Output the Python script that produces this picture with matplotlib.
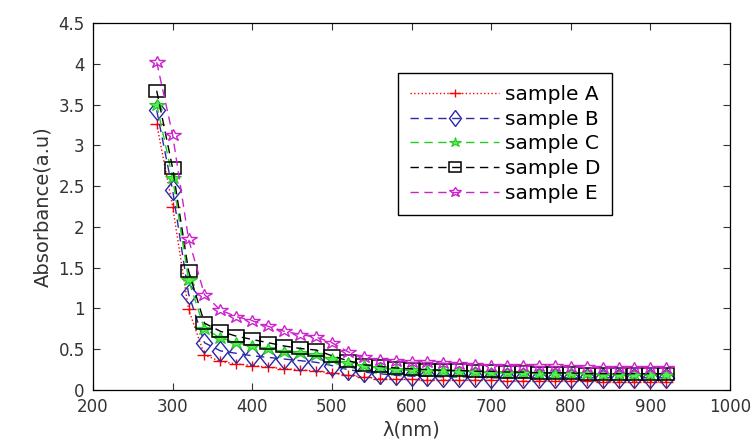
import matplotlib.pyplot as plt
import numpy as np
from matplotlib.markers import MarkerStyle
from matplotlib.transforms import Affine2D

plt.rcParams['font.family'] = ['DejaVu Sans']

wl = list(range(280, 940, 20))

sample_a = [3.26, 2.25, 0.99, 0.43, 0.35, 0.32, 0.30, 0.28, 0.26, 0.25, 0.23, 0.21, 0.18,
            0.16, 0.14, 0.13, 0.13, 0.12, 0.12, 0.12, 0.12, 0.12, 0.11, 0.11, 0.11, 0.11,
            0.11, 0.11, 0.10, 0.10, 0.10, 0.10, 0.10]
sample_b = [3.43, 2.45, 1.18, 0.58, 0.48, 0.45, 0.42, 0.40, 0.38, 0.36, 0.34, 0.30, 0.25,
            0.22, 0.20, 0.18, 0.17, 0.17, 0.16, 0.16, 0.16, 0.15, 0.15, 0.15, 0.15, 0.15,
            0.15, 0.15, 0.15, 0.15, 0.15, 0.15, 0.15]
sample_c = [3.50, 2.60, 1.35, 0.75, 0.64, 0.58, 0.54, 0.50, 0.47, 0.45, 0.43, 0.38, 0.33,
            0.29, 0.27, 0.25, 0.24, 0.23, 0.23, 0.22, 0.22, 0.21, 0.21, 0.21, 0.20, 0.20,
            0.20, 0.20, 0.19, 0.19, 0.19, 0.19, 0.19]
sample_d = [3.67, 2.72, 1.46, 0.82, 0.72, 0.66, 0.62, 0.58, 0.54, 0.51, 0.49, 0.42, 0.36,
            0.31, 0.29, 0.27, 0.26, 0.25, 0.24, 0.24, 0.23, 0.23, 0.22, 0.22, 0.21, 0.21,
            0.21, 0.20, 0.20, 0.20, 0.20, 0.20, 0.20]
sample_e = [4.02, 3.13, 1.85, 1.17, 0.98, 0.90, 0.85, 0.78, 0.72, 0.68, 0.65, 0.58, 0.47,
            0.40, 0.37, 0.36, 0.34, 0.34, 0.33, 0.32, 0.31, 0.30, 0.30, 0.29, 0.29, 0.29,
            0.28, 0.28, 0.27, 0.27, 0.27, 0.27, 0.27]


# the original picture is stretched sideways, so the markers are too
def wide(m):
    return MarkerStyle(m, transform=Affine2D().scale(1.35, 1.0))


fig = plt.figure(figsize=(7.53, 4.43), dpi=100)
ax = fig.add_axes([0.1235, 0.1196, 0.846, 0.8284])

ax.plot(wl, sample_a, ':', color='red', marker=wide('+'), ms=7.5, mew=1.0, lw=1.0,
        label='sample A')
ax.plot(wl, sample_b, '--', color='#2a2aa8', marker=wide('d'), ms=10, mfc='none', mew=1.0,
        lw=1.0, label='sample B', dashes=(6, 4))
ax.plot(wl, sample_c, '--', color='#22cc22', marker=wide('*'), ms=8.5, mfc='#55ee55', mew=0.8,
        lw=1.0, label='sample C', dashes=(6, 4))
ax.plot(wl, sample_d, '--', color='black', marker=wide('s'), ms=8.6, mfc='none', mew=1.1,
        lw=1.0, label='sample D', dashes=(6, 4))
ax.plot(wl, sample_e, '--', color='#cc22cc', marker=wide('*'), ms=9, mfc='none', mew=1.0,
        lw=1.0, label='sample E', dashes=(6, 4))

ax.set_xlim(200, 1000)
ax.set_ylim(0, 4.5)
ax.set_xticks(np.arange(200, 1001, 100))
ax.set_yticks(np.arange(0, 4.51, 0.5))
ax.set_yticklabels(['0', '0.5', '1', '1.5', '2', '2.5', '3', '3.5', '4', '4.5'])
ax.tick_params(direction='in', top=True, right=True, labelsize=12, length=5, pad=6,
               colors='#333333', labelcolor='#333333')
for s in ax.spines.values():
    s.set_linewidth(0.9)

ax.set_xlabel('λ(nm)', fontsize=14, color='#333333', labelpad=3)
ax.set_ylabel('Absorbance(a.u)', fontsize=14, color='#333333', labelpad=4)

leg = ax.legend(loc='upper left', bbox_to_anchor=(0.479, 0.864), borderaxespad=0,
                fontsize=14.5, fancybox=False, edgecolor='black', framealpha=1,
                borderpad=0.6, labelspacing=0.28, handlelength=4.4, handletextpad=0.3,
                markerscale=0.8)
leg.get_frame().set_linewidth(1.0)

plt.savefig('out.png', dpi=100)
